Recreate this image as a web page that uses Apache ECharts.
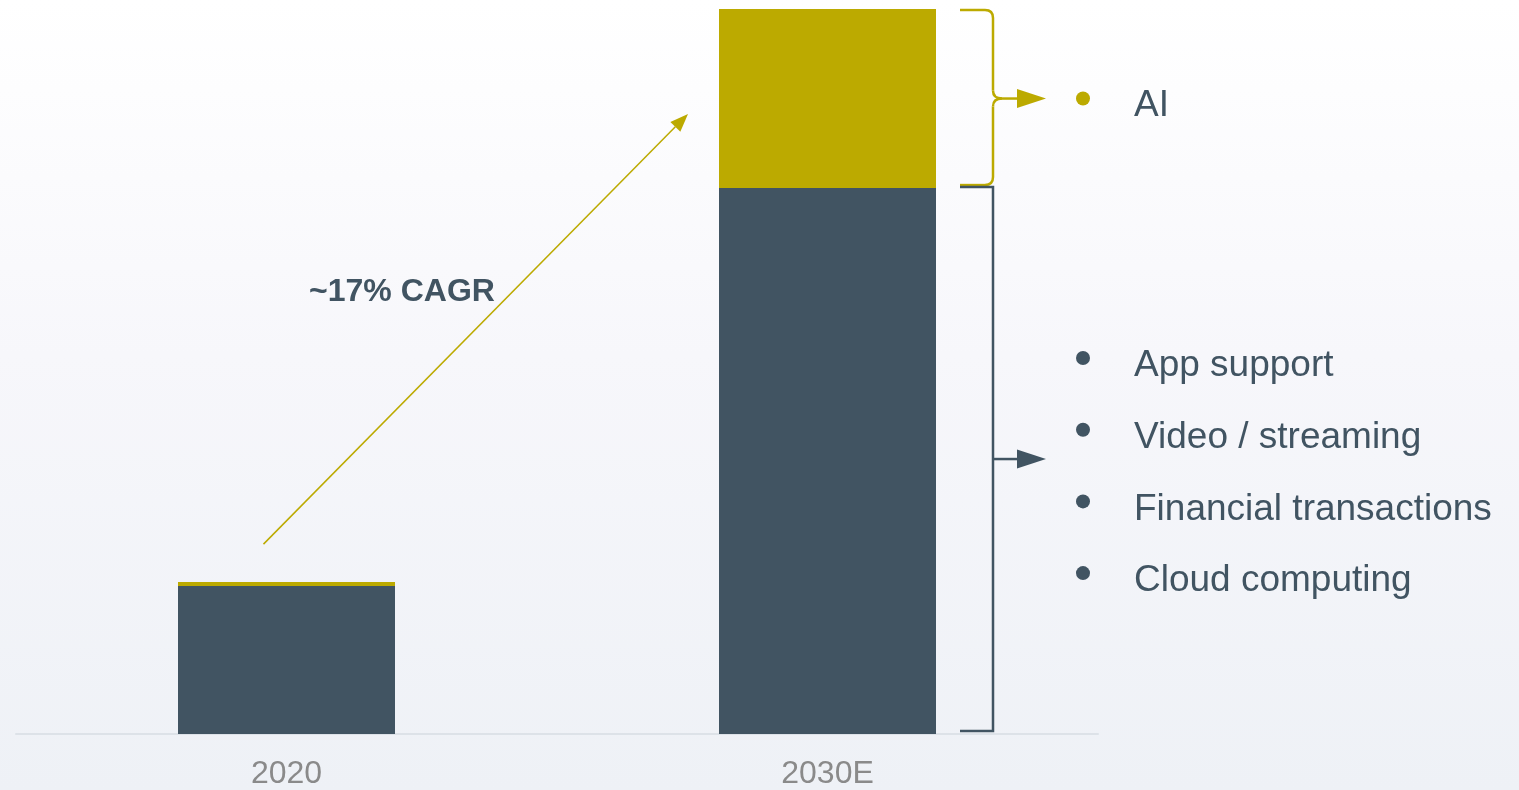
<!DOCTYPE html>
<html>
<head>
<meta charset="utf-8">
<script src="https://cdn.jsdelivr.net/npm/echarts@6/dist/echarts.min.js"></script>
<style>
html,body{margin:0;padding:0;width:1519px;height:790px;overflow:hidden;
background:linear-gradient(180deg,#ffffff 0%,#f7f7fb 45%,#eef1f6 100%);}
#c{width:1519px;height:790px;}
</style>
</head>
<body>
<div id="c"></div>
<script>
// ---- data ----
const categories = ['2020', '2030E'];
const otherValues = [20.4, 75.3];   // App support, video, financial, cloud
const aiValues = [0.55, 24.7];      // AI
const cagrLabel = '~17% CAGR';
const aiBullets = ['AI'];
const otherBullets = ['App support', 'Video / streaming', 'Financial transactions', 'Cloud computing'];

(function () {
const DARK = '#415462';
const GOLD = '#bcaa00';
const FONT = 'Liberation Sans, Arial, sans-serif';

const chart = echarts.init(document.getElementById('c'));
chart.setOption({
  backgroundColor: 'transparent',
  animation: false,
  grid: { left: 16, right: 421, top: 9, bottom: 56, containLabel: false },
  xAxis: {
    type: 'category', data: categories,
    axisLine: { lineStyle: { color: '#dde2e8', width: 2 } },
    axisTick: { show: false },
    axisLabel: { color: '#8a8a8a', fontSize: 32, fontFamily: FONT, margin: 24 }
  },
  yAxis: { type: 'value', min: 0, max: 100, show: false, splitLine: { show: false } },
  series: [
    { name: 'Other', type: 'bar', stack: 's', data: otherValues, barWidth: 217,
      itemStyle: { color: DARK } },
    { name: 'AI', type: 'bar', stack: 's', data: aiValues, barWidth: 217,
      itemStyle: { color: GOLD } }
  ]
});

function px(cat, v) { return chart.convertToPixel({ gridIndex: 0 }, [cat, v]); }

const c1 = px(categories[1], 0);
const half = 108.5;
const barRight = c1[0] + half;
const base = c1[1];
const split = px(categories[1], otherValues[1])[1];
const barTop = px(categories[1], otherValues[1] + aiValues[1])[1];

const bx = barRight + 57;
const hx = barRight + 24;
const arrowTip = bx + 53;
const lw = 2.5;
const r = 8;

const yTop = barTop + 1, yBot = split - 3, yMid = (yTop + yBot) / 2 + 1;
const dTop = split - 1, dBot = base - 3, dMid = (dTop + dBot) / 2;

function pl(points, color) {
  return { type: 'polyline', shape: { points }, style: { stroke: color, lineWidth: lw, fill: null } };
}
function qc(x1, y1, cx, cy, x2, y2, color) {
  return { type: 'bezierCurve', shape: { x1, y1, x2, y2, cpx1: cx, cpy1: cy }, style: { stroke: color, lineWidth: lw, fill: null } };
}
function tri(x, y, color) {
  return { type: 'polygon', shape: { points: [[x - 29, y - 9.5], [x, y], [x - 29, y + 9.5]] }, style: { fill: color } };
}

const b0top = px(categories[0], otherValues[0] + aiValues[0]);
const aStart = [b0top[0] - 23, b0top[1] - 38];
const aEnd = [c1[0] - half - 31, barTop + 105];
const ang = Math.atan2(aEnd[1] - aStart[1], aEnd[0] - aStart[0]);
const hl = 18, hw = 7;
const bxp = aEnd[0] - hl * Math.cos(ang), byp = aEnd[1] - hl * Math.sin(ang);
const head = [[aEnd[0], aEnd[1]],
  [bxp + hw * Math.sin(ang), byp - hw * Math.cos(ang)],
  [bxp - hw * Math.sin(ang), byp + hw * Math.cos(ang)]];

const textX = arrowTip + 88;
const dotX = arrowTip + 37;
const graphics = [
  // gold curly brace
  pl([[hx, yTop], [bx - r, yTop]], GOLD),
  qc(bx - r, yTop, bx, yTop, bx, yTop + r, GOLD),
  pl([[bx, yTop + r], [bx, yMid - r]], GOLD),
  qc(bx, yMid - r, bx, yMid, bx + 9, yMid, GOLD),
  qc(bx, yMid + r, bx, yMid, bx + 9, yMid, GOLD),
  pl([[bx, yMid + r], [bx, yBot - r]], GOLD),
  qc(bx, yBot - r, bx, yBot, bx - r, yBot, GOLD),
  pl([[bx - r, yBot], [hx, yBot]], GOLD),
  pl([[bx + 9, yMid], [arrowTip - 26, yMid]], GOLD),
  tri(arrowTip, yMid, GOLD),
  // dark square bracket
  pl([[hx, dTop], [bx, dTop], [bx, dBot], [hx, dBot]], DARK),
  pl([[bx, dMid], [arrowTip - 26, dMid]], DARK),
  tri(arrowTip, dMid, DARK),
  // CAGR arrow
  { type: 'line', shape: { x1: aStart[0], y1: aStart[1], x2: bxp, y2: byp }, style: { stroke: GOLD, lineWidth: 1.5 } },
  { type: 'polygon', shape: { points: head }, style: { fill: GOLD } },
  { type: 'text', x: 402, y: 292, style: { text: cagrLabel, font: `bold 32px ${FONT}`, fill: DARK, align: 'center', verticalAlign: 'middle' } }
];
aiBullets.forEach((t) => {
  graphics.push({ type: 'circle', shape: { cx: dotX, cy: yMid, r: 7 }, style: { fill: GOLD } });
  graphics.push({ type: 'text', x: textX, y: yMid + 7, style: { text: t, font: `37px ${FONT}`, fill: DARK, verticalAlign: 'middle' } });
});
const firstY = 366, step = 71.7;
otherBullets.forEach((t, i) => {
  const y = firstY + i * step;
  graphics.push({ type: 'circle', shape: { cx: dotX, cy: y - 8, r: 7 }, style: { fill: DARK } });
  graphics.push({ type: 'text', x: textX, y: y, style: { text: t, font: `37px ${FONT}`, fill: DARK, verticalAlign: 'middle' } });
});
chart.setOption({ graphic: graphics });
})();
</script>
</body>
</html>
